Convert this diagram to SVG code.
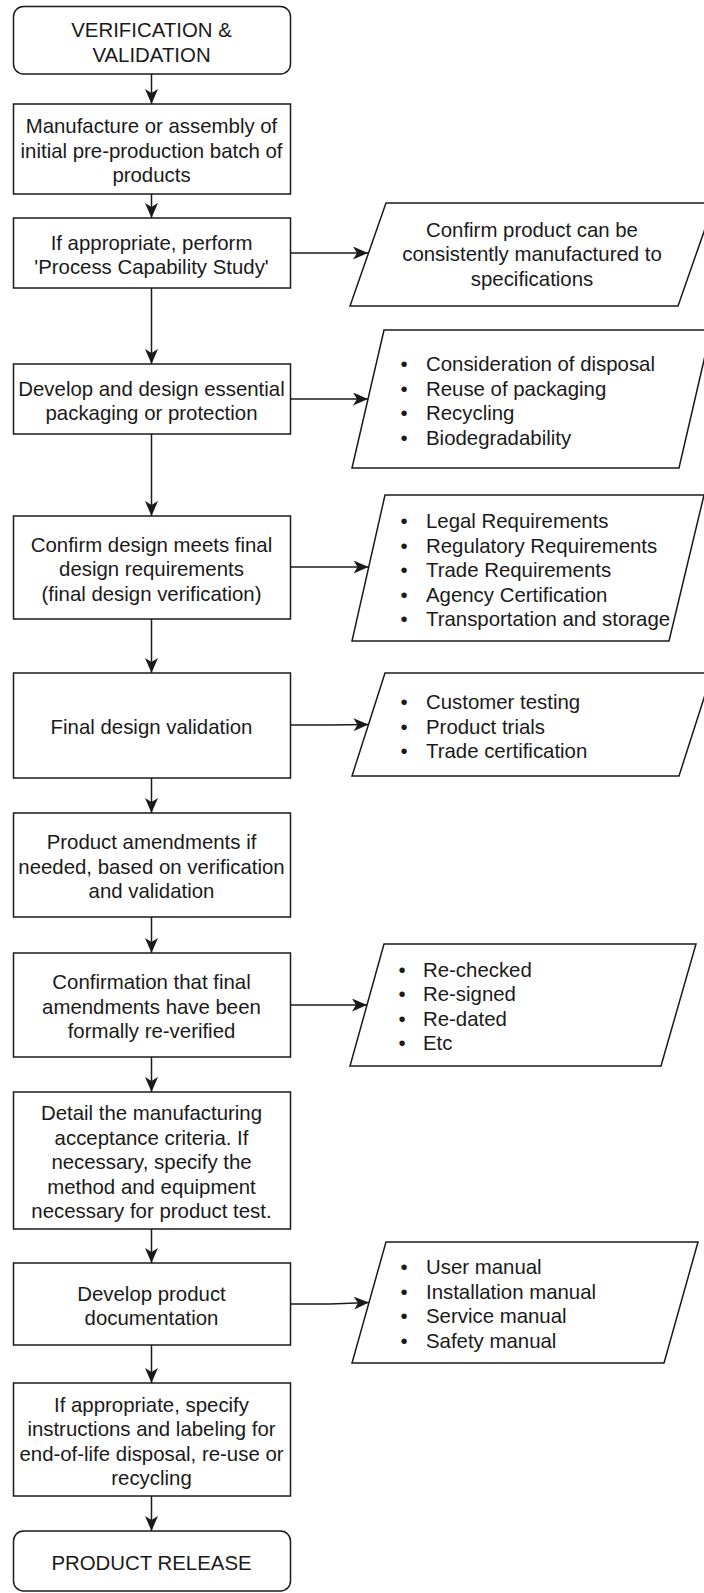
<svg xmlns="http://www.w3.org/2000/svg" width="704" height="1593" viewBox="0 0 704 1593">
<style>
.box{fill:#fff;stroke:#1a1a1a;stroke-width:1.5}
.t{font-family:"Liberation Sans",Arial,sans-serif;font-size:20.4px;fill:#1a1a1a}
.c{text-anchor:middle}
.b{text-anchor:middle}
.ln{fill:none;stroke:#1a1a1a;stroke-width:1.5}
</style>
<defs>
<marker id="ah" markerUnits="userSpaceOnUse" viewBox="0 0 15 13" refX="15" refY="6.5" markerWidth="15" markerHeight="13" orient="auto">
<path d="M0,0 L15,6.5 L0,13 L4,6.5 Z" fill="#1a1a1a"/>
</marker>
</defs>
<rect width="704" height="1593" fill="#fff"/>
<g id="connectors">
<line class="ln" x1="151.5" y1="74" x2="151.5" y2="104" marker-end="url(#ah)"/>
<line class="ln" x1="151.5" y1="194" x2="151.5" y2="218" marker-end="url(#ah)"/>
<line class="ln" x1="151.5" y1="288" x2="151.5" y2="364" marker-end="url(#ah)"/>
<line class="ln" x1="151.5" y1="434" x2="151.5" y2="516" marker-end="url(#ah)"/>
<line class="ln" x1="151.5" y1="619" x2="151.5" y2="673" marker-end="url(#ah)"/>
<line class="ln" x1="151.5" y1="778" x2="151.5" y2="813" marker-end="url(#ah)"/>
<line class="ln" x1="151.5" y1="917" x2="151.5" y2="953" marker-end="url(#ah)"/>
<line class="ln" x1="151.5" y1="1057" x2="151.5" y2="1092" marker-end="url(#ah)"/>
<line class="ln" x1="151.5" y1="1229" x2="151.5" y2="1263" marker-end="url(#ah)"/>
<line class="ln" x1="151.5" y1="1345" x2="151.5" y2="1383" marker-end="url(#ah)"/>
<line class="ln" x1="151.5" y1="1496" x2="151.5" y2="1531" marker-end="url(#ah)"/>
<line class="ln" x1="290" y1="253" x2="368" y2="253" marker-end="url(#ah)"/>
<line class="ln" x1="290" y1="399" x2="368" y2="399" marker-end="url(#ah)"/>
<line class="ln" x1="290" y1="567" x2="368.5" y2="567" marker-end="url(#ah)"/>
<path class="ln" d="M290,725 L330,725 L368.5,724.5" marker-end="url(#ah)"/>
<line class="ln" x1="290" y1="1005" x2="367" y2="1005" marker-end="url(#ah)"/>
<path class="ln" d="M290,1304 L330,1304 L369,1302.5" marker-end="url(#ah)"/>
</g>
<g id="n1"><rect class="box" x="13.5" y="6.5" width="277" height="67.5" rx="10"/>
<text class="t c" x="151.5" y="37.2">VERIFICATION &amp;</text><text class="t c" x="151.5" y="61.7">VALIDATION</text></g>
<g id="n2"><rect class="box" x="13.5" y="104" width="277" height="90"/>
<text class="t c" x="151.5" y="133.2">Manufacture or assembly of</text><text class="t c" x="151.5" y="157.7">initial pre-production batch of</text><text class="t c" x="151.5" y="182.2">products</text></g>
<g id="n3"><rect class="box" x="13.5" y="218" width="277" height="70"/>
<text class="t c" x="151.5" y="249.5">If appropriate, perform</text><text class="t c" x="151.5" y="274">'Process Capability Study'</text></g>
<g id="n4"><rect class="box" x="13.5" y="364" width="277" height="70"/>
<text class="t c" x="151.5" y="395.5">Develop and design essential</text><text class="t c" x="151.5" y="420">packaging or protection</text></g>
<g id="n5"><rect class="box" x="13.5" y="516" width="277" height="103"/>
<text class="t c" x="151.5" y="551.7">Confirm design meets final</text><text class="t c" x="151.5" y="576.2">design requirements</text><text class="t c" x="151.5" y="600.7">(final design verification)</text></g>
<g id="n6"><rect class="box" x="13.5" y="673" width="277" height="105"/>
<text class="t c" x="151.5" y="734.2">Final design validation</text></g>
<g id="n7"><rect class="box" x="13.5" y="813" width="277" height="104"/>
<text class="t c" x="151.5" y="849.2">Product amendments if</text><text class="t c" x="151.5" y="873.7">needed, based on verification</text><text class="t c" x="151.5" y="898.2">and validation</text></g>
<g id="n8"><rect class="box" x="13.5" y="953" width="277" height="104"/>
<text class="t c" x="151.5" y="989.2">Confirmation that final</text><text class="t c" x="151.5" y="1013.7">amendments have been</text><text class="t c" x="151.5" y="1038.2">formally re-verified</text></g>
<g id="n9"><rect class="box" x="13.5" y="1092" width="277" height="137"/>
<text class="t c" x="151.5" y="1120.2">Detail the manufacturing</text><text class="t c" x="151.5" y="1144.7">acceptance criteria. If</text><text class="t c" x="151.5" y="1169.2">necessary, specify the</text><text class="t c" x="151.5" y="1193.7">method and equipment</text><text class="t c" x="151.5" y="1218.2">necessary for product test.</text></g>
<g id="n10"><rect class="box" x="13.5" y="1263" width="277" height="82"/>
<text class="t c" x="151.5" y="1300.5">Develop product</text><text class="t c" x="151.5" y="1325">documentation</text></g>
<g id="n11"><rect class="box" x="13.5" y="1383" width="277" height="113"/>
<text class="t c" x="151.5" y="1411.5">If appropriate, specify</text><text class="t c" x="151.5" y="1436">instructions and labeling for</text><text class="t c" x="151.5" y="1460.5">end-of-life disposal, re-use or</text><text class="t c" x="151.5" y="1485">recycling</text></g>
<g id="n12"><rect class="box" x="13.5" y="1531" width="277" height="60" rx="10"/>
<text class="t c" x="151.5" y="1570">PRODUCT RELEASE</text></g>
<g id="p1"><polygon class="box" points="386,203 714,203 678,306 350,306"/>
<text class="t c" x="532" y="236.7">Confirm product can be</text><text class="t c" x="532" y="261.2">consistently manufactured to</text><text class="t c" x="532" y="285.7">specifications</text></g>
<g id="p2"><polygon class="box" points="384,330 711,330 679,468 352,468"/>
<text class="t b" x="404" y="371">•</text><text class="t" x="426" y="371">Consideration of disposal</text>
<text class="t b" x="404" y="395.5">•</text><text class="t" x="426" y="395.5">Reuse of packaging</text>
<text class="t b" x="404" y="420">•</text><text class="t" x="426" y="420">Recycling</text>
<text class="t b" x="404" y="444.5">•</text><text class="t" x="426" y="444.5">Biodegradability</text></g>
<g id="p3"><polygon class="box" points="385,495 704,495 669,641 352,641"/>
<text class="t b" x="404" y="528">•</text><text class="t" x="426" y="528">Legal Requirements</text>
<text class="t b" x="404" y="552.5">•</text><text class="t" x="426" y="552.5">Regulatory Requirements</text>
<text class="t b" x="404" y="577">•</text><text class="t" x="426" y="577">Trade Requirements</text>
<text class="t b" x="404" y="601.5">•</text><text class="t" x="426" y="601.5">Agency Certification</text>
<text class="t b" x="404" y="626">•</text><text class="t" x="426" y="626">Transportation and storage</text></g>
<g id="p4"><polygon class="box" points="385,673 712,673 679,776 352,776"/>
<text class="t b" x="404" y="709">•</text><text class="t" x="426" y="709">Customer testing</text>
<text class="t b" x="404" y="733.5">•</text><text class="t" x="426" y="733.5">Product trials</text>
<text class="t b" x="404" y="758">•</text><text class="t" x="426" y="758">Trade certification</text></g>
<g id="p5"><polygon class="box" points="384,944 696,944 661,1066 350,1066"/>
<text class="t b" x="402" y="976.5">•</text><text class="t" x="423" y="976.5">Re-checked</text>
<text class="t b" x="402" y="1001">•</text><text class="t" x="423" y="1001">Re-signed</text>
<text class="t b" x="402" y="1025.5">•</text><text class="t" x="423" y="1025.5">Re-dated</text>
<text class="t b" x="402" y="1050">•</text><text class="t" x="423" y="1050">Etc</text></g>
<g id="p6"><polygon class="box" points="386,1242 698,1242 664,1363 352,1363"/>
<text class="t b" x="404" y="1274">•</text><text class="t" x="426" y="1274">User manual</text>
<text class="t b" x="404" y="1298.5">•</text><text class="t" x="426" y="1298.5">Installation manual</text>
<text class="t b" x="404" y="1323">•</text><text class="t" x="426" y="1323">Service manual</text>
<text class="t b" x="404" y="1347.5">•</text><text class="t" x="426" y="1347.5">Safety manual</text></g>
</svg>
